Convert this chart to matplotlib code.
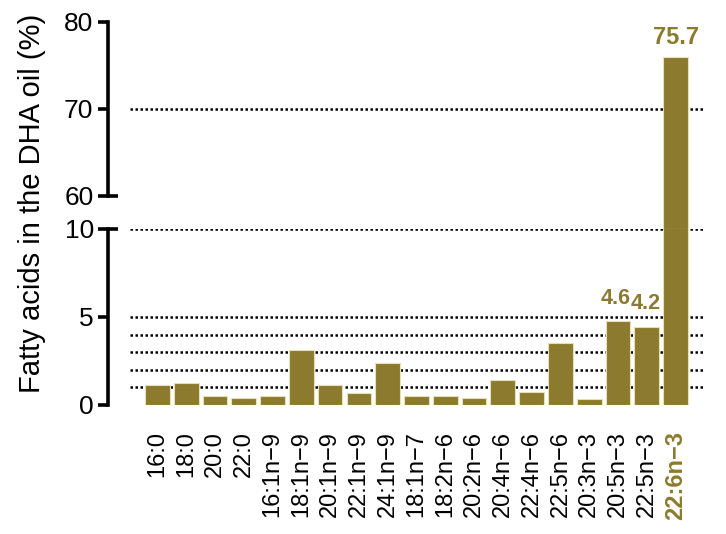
import matplotlib
matplotlib.use("Agg")
import matplotlib.pyplot as plt
import numpy as np

plt.rcParams['font.family'] = ['Liberation Sans', 'DejaVu Sans']

# data
acids = ['16:0', '18:0', '20:0', '22:0', '16:1n−9', '18:1n−9', '20:1n−9',
         '22:1n−9', '24:1n−9', '18:1n−7', '18:2n−6', '20:2n−6', '20:4n−6',
         '22:4n−6', '22:5n−6', '20:3n−3', '20:5n−3', '22:5n−3', '22:6n−3']
percent = [1.15, 1.25, 0.5, 0.42, 0.5, 3.1, 1.15, 0.7, 2.4, 0.5, 0.5, 0.42,
           1.4, 0.72, 3.55, 0.32, 4.75, 4.45, 76.0]
shown_labels = {16: '4.6', 17: '4.2', 18: '75.7'}
lower_grid = [1, 2, 3, 4, 5, 10]
upper_grid = [70]

gold = '#8c7a2e'
edge = '#e6dfb8'
x = np.arange(len(acids))

fig = plt.figure(figsize=(7.26, 5.34), dpi=100)
W, H = 726, 534
left, right = 130 / W, 705 / W
ax_up = fig.add_axes([left, (H - 196) / H, right - left, 174 / H])
ax_lo = fig.add_axes([left, (H - 405) / H, right - left, 176 / H])

ax_up.set_ylim(60, 80)
ax_lo.set_ylim(0, 10)
for ax in (ax_up, ax_lo):
    ax.set_xlim(-0.95, 18 + 1.02)
    for s in ('top', 'right', 'bottom'):
        ax.spines[s].set_visible(False)
    ax.spines['left'].set_position(('outward', 15.8))
    ax.spines['left'].set_linewidth(2.6)
    ax.tick_params(axis='y', which='major', direction='out', length=7.5,
                   width=2.6, labelsize=19, pad=3)
    ax.tick_params(axis='y', which='minor', direction='inout', length=14.5,
                   width=2.6, labelsize=19, pad=3)
    ax.set_axisbelow(True)

# dotted reference lines
dot = dict(color='black', linestyle=(0, (1, 1.0)), linewidth=1.8, zorder=0)
for v in lower_grid:
    ax_lo.axhline(v, **dot)
for v in upper_grid:
    ax_up.axhline(v, **dot)

# bars
ax_lo.bar(x, percent, width=0.86, color=gold, edgecolor=edge, linewidth=0.8,
          zorder=2)
# the big bar keeps going across the axis break
gap_bottom = ax_up.transData.inverted().transform(
    ax_lo.transData.transform((0, 10)))[1]
ax_up.bar(x[-1], percent[-1] - gap_bottom, bottom=gap_bottom, width=0.86,
          color=gold, edgecolor=edge, linewidth=0.8, zorder=2, clip_on=False)

# y ticks
ax_up.set_yticks([70, 80])
ax_up.set_yticks([60], minor=True)
ax_up.set_yticklabels(['60'], minor=True)
ax_lo.set_yticks([0, 5])
ax_lo.set_yticks([10], minor=True)
ax_lo.set_yticklabels(['10'], minor=True)

# x ticks
ax_up.set_xticks([])
ax_lo.set_xticks(x)
ax_lo.set_xticklabels(acids, rotation=90, fontsize=17)
ax_lo.tick_params(axis='x', length=0, pad=19)
last = ax_lo.get_xticklabels()[-1]
last.set_color(gold)
last.set_fontweight('bold')

# value labels
ax_lo.text(x[16] - 0.08, percent[16] + 0.7, shown_labels[16], ha='center',
           va='bottom', color=gold, fontsize=15.5, fontweight='bold')
ax_lo.text(x[17] - 0.05, percent[17] + 0.7, shown_labels[17], ha='center',
           va='bottom', color=gold, fontsize=15.5, fontweight='bold')
ax_up.text(x[18], percent[18] + 0.9, shown_labels[18], ha='center',
           va='bottom', color=gold, fontsize=17, fontweight='bold')

fig.text(32 / W, 1 - 203 / H, 'Fatty acids in the DHA oil (%)', rotation=90,
         ha='center', va='center', fontsize=21)

fig.savefig('out.png', dpi=100)
